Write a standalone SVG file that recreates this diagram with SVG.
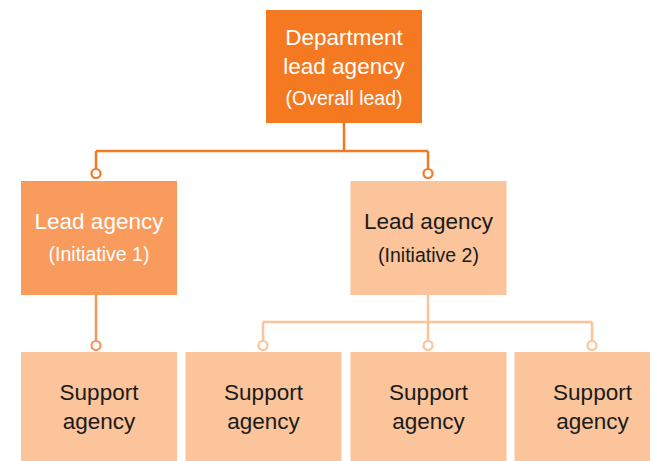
<svg xmlns="http://www.w3.org/2000/svg" width="650" height="461" viewBox="0 0 650 461">
  <style>
    .txt { font-family: "Liberation Sans", Arial, sans-serif; text-anchor: middle; }
    .main { font-size: 22.5px; }
    .sub { font-size: 19.5px; }
    .light { fill: #ffffff; }
    .dark { fill: #1a1a1a; }
    .c-dark { stroke: #f47920; }
    .c-mid { stroke: #f5965a; }
    .c-light { stroke: #fbc49a; }
    .wire { fill: none; stroke-width: 2.5; }
    .dot { fill: #ffffff; stroke-width: 2.2; }
  </style>

  <rect width="650" height="461" fill="#ffffff"/>

  <!-- connectors -->
  <g id="connectors">
    <path class="wire c-dark" d="M344 123 V151 M96 151 H428 M96 151 V169 M428 151 V169"/>
    <circle class="dot c-dark" cx="96" cy="173.5" r="4.5"/>
    <circle class="dot c-dark" cx="428" cy="173.5" r="4.5"/>

    <path class="wire c-mid" d="M96 295 V341"/>
    <circle class="dot c-mid" cx="96" cy="345.5" r="4.5"/>

    <path class="wire c-light" d="M428 295 V341 M263 322 H592 M263 322 V341 M592 322 V341"/>
    <circle class="dot c-light" cx="263" cy="345.5" r="4.5"/>
    <circle class="dot c-light" cx="428" cy="345.5" r="4.5"/>
    <circle class="dot c-light" cx="592" cy="345.5" r="4.5"/>
  </g>

  <!-- top level -->
  <g id="department-lead">
    <rect x="266" y="10" width="156" height="113" fill="#f47920"/>
    <text class="txt main light" x="344" y="45">Department</text>
    <text class="txt main light" x="344" y="74">lead agency</text>
    <text class="txt sub light" x="344" y="105">(Overall lead)</text>
  </g>

  <!-- initiative leads -->
  <g id="lead-initiative-1">
    <rect x="21" y="181" width="156" height="114" fill="#f89b5c"/>
    <text class="txt main light" x="99" y="229">Lead agency</text>
    <text class="txt sub light" x="99" y="261">(Initiative 1)</text>
  </g>
  <g id="lead-initiative-2">
    <rect x="350.5" y="181" width="156" height="114" fill="#fbc49a"/>
    <text class="txt main dark" x="428.5" y="229">Lead agency</text>
    <text class="txt sub dark" x="428.5" y="261.5">(Initiative 2)</text>
  </g>

  <!-- support agencies -->
  <g id="support-1">
    <rect x="21" y="352" width="156" height="109" fill="#fbc49a"/>
    <text class="txt main dark" x="99" y="400">Support</text>
    <text class="txt main dark" x="99" y="429">agency</text>
  </g>
  <g id="support-2">
    <rect x="185.5" y="352" width="156" height="109" fill="#fbc49a"/>
    <text class="txt main dark" x="263.5" y="400">Support</text>
    <text class="txt main dark" x="263.5" y="429">agency</text>
  </g>
  <g id="support-3">
    <rect x="350.5" y="352" width="156" height="109" fill="#fbc49a"/>
    <text class="txt main dark" x="428.5" y="400">Support</text>
    <text class="txt main dark" x="428.5" y="429">agency</text>
  </g>
  <g id="support-4">
    <rect x="514.5" y="352" width="156" height="109" fill="#fbc49a"/>
    <text class="txt main dark" x="592.5" y="400">Support</text>
    <text class="txt main dark" x="592.5" y="429">agency</text>
  </g>
</svg>
